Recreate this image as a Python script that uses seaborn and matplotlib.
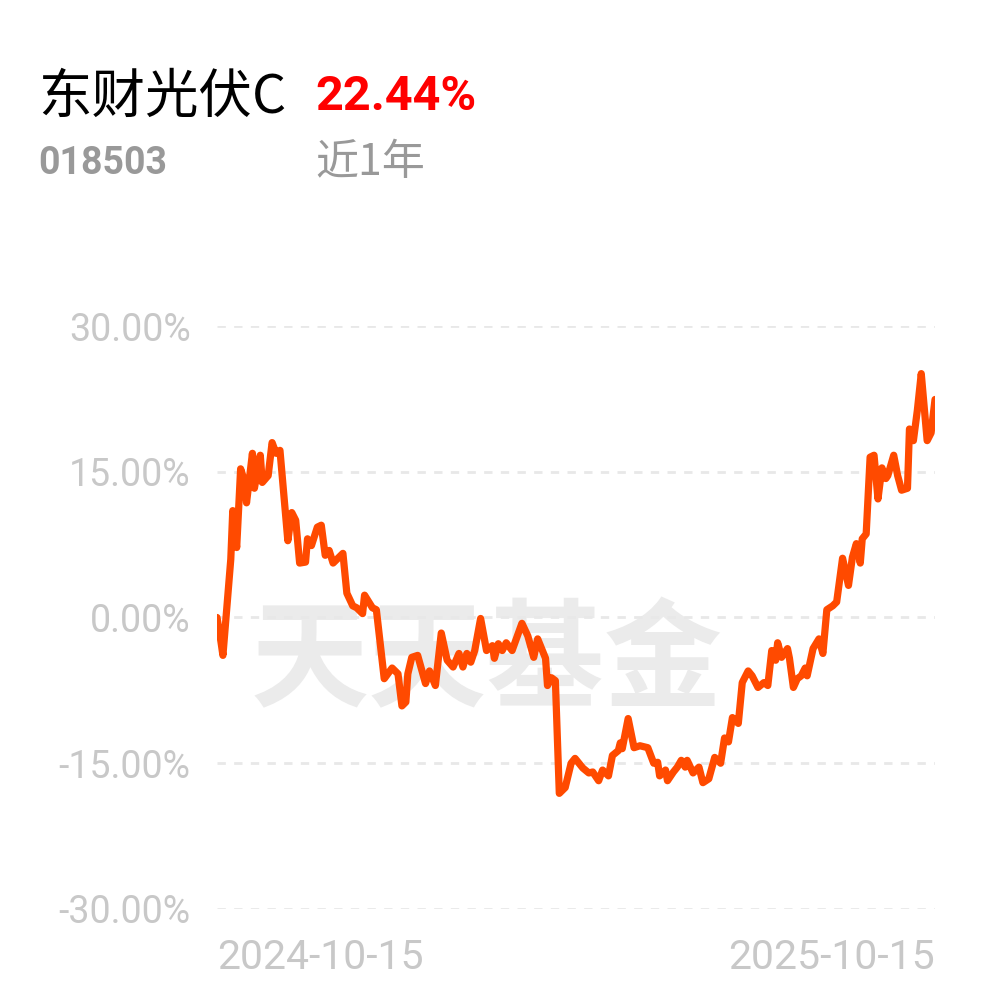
# 东财光伏C 近1年收益走势
import pandas as pd
import matplotlib.pyplot as plt
import seaborn as sns

sns.set_style('white')
plt.rcParams['font.family'] = ['Roboto', 'Noto Sans CJK SC', 'DejaVu Sans']

fund_name = '东财光伏C'
fund_code = '018503'
period_label = '近1年'
period_return = '22.44%'
start_date = '2024-10-15'
end_date = '2025-10-15'

# 距起始日的天数 与 累计收益(%)
days = [0, 2, 3, 5, 7, 8, 10, 12, 14, 15, 18, 19, 22, 23, 26, 28, 30, 32, 36, 38,
        40, 42, 45, 46, 48, 51, 53, 55, 57, 59, 64, 66, 69, 71, 74, 75, 79, 81, 85, 89,
        92, 94, 96, 97, 99, 102, 106, 108, 111, 114, 117, 120, 123, 125, 127, 129, 131, 134, 137, 140,
        141, 143, 145, 147, 150, 155, 158, 161, 163, 167, 168, 170, 172, 174, 177, 180, 182, 186, 189, 191,
        194, 196, 199, 201, 204, 205, 206, 209, 212, 215, 219, 222, 224, 225, 228, 229, 232, 234, 236, 238,
        239, 242, 245, 247, 250, 253, 256, 258, 260, 262, 265, 267, 270, 272, 275, 278, 280, 282, 284, 285,
        287, 290, 291, 293, 295, 297, 299, 300, 303, 306, 308, 310, 313, 315, 318, 321, 323, 325, 327, 328,
        330, 332, 334, 336, 338, 340, 341, 344, 346, 348, 351, 352, 354, 356, 358, 361, 363, 365]
returns = [0.0, -2.5, -3.9, 1.0, 6.0, 11.0, 7.2, 15.3, 14.0, 11.8, 16.9, 13.3, 16.7, 13.9, 14.6, 18.0, 16.9, 17.2, 7.9, 10.8,
           10.0, 5.6, 5.7, 8.1, 7.4, 9.3, 9.5, 6.4, 6.9, 5.6, 6.6, 2.5, 1.2, 1.0, 0.4, 2.3, 1.0, 0.8, -6.3, -5.2,
           -5.8, -9.1, -8.7, -5.8, -4.1, -3.9, -6.8, -5.5, -7.0, -1.6, -4.4, -5.1, -3.7, -5.1, -3.7, -4.6, -3.4, -0.1, -3.4, -2.9,
           -4.2, -2.7, -3.4, -2.6, -3.4, -0.6, -1.9, -4.1, -2.2, -4.2, -7.0, -6.2, -6.5, -18.1, -17.5, -15.0, -14.5, -15.5, -16.0, -15.9,
           -16.8, -15.7, -16.3, -14.2, -13.7, -12.9, -13.5, -10.4, -13.4, -13.2, -13.4, -15.0, -14.9, -16.3, -15.7, -16.8, -15.9, -15.4, -14.7, -15.4,
           -14.7, -16.0, -15.4, -17.0, -16.6, -14.4, -15.0, -12.4, -12.8, -10.3, -10.9, -6.7, -5.5, -6.0, -7.2, -6.7, -7.0, -3.4, -4.4, -2.6,
           -4.1, -3.2, -4.2, -7.2, -6.3, -6.0, -5.2, -6.0, -3.2, -2.2, -3.7, 0.8, 1.2, 1.6, 6.1, 3.3, 6.2, 7.6, 5.6, 8.1,
           8.6, 16.5, 16.7, 12.2, 15.4, 14.3, 14.6, 16.7, 14.6, 13.1, 13.3, 19.4, 18.2, 21.3, 25.1, 18.2, 19.0, 22.44]
y_ticks = [-30, -15, 0, 15, 30]

df = pd.DataFrame({'date': pd.to_datetime(start_date) + pd.to_timedelta(days, unit='D'),
                   'ret': returns})

fig = plt.figure(figsize=(9.86, 9.93), dpi=100)
ax = fig.add_axes([0.2201, 0.0846, 0.7282, 0.5871])

# 水印
ax.text(0.375, 0.42, '天天基金', transform=ax.transAxes, ha='center', va='center',
        fontsize=85, fontweight='bold', color='#ebebeb', family='Noto Sans CJK SC', zorder=0)

sns.lineplot(data=df, x='date', y='ret', color='#ff4a00', linewidth=5.2, ax=ax, zorder=3,
             solid_joinstyle='round', solid_capstyle='round')

ax.set_ylim(-30, 30)
ax.set_xlim(pd.to_datetime(start_date), pd.to_datetime(end_date))
ax.set_yticks(y_ticks)
ax.set_yticklabels([f'{v:.2f}%' for v in y_ticks])
ax.set_xticks([pd.to_datetime(start_date), pd.to_datetime(end_date)])
ax.set_xticklabels([start_date, end_date])
lbls = ax.get_xticklabels()
lbls[0].set_ha('left')
lbls[1].set_ha('right')
ax.tick_params(axis='y', length=0, pad=19, labelsize=27, labelcolor='#c8c8c8')
ax.tick_params(axis='x', length=0, pad=21, labelsize=29.5, labelcolor='#c8c8c8')
ax.set_xlabel('')
ax.set_ylabel('')
ax.grid(axis='y', linestyle=(0, (3, 3)), linewidth=2, color='#e8e8e8')
ax.grid(axis='x', visible=False)
for s in ax.spines.values():
    s.set_visible(False)

# 标题区
fig.text(38 / 986, 1 - 97 / 993, fund_name, ha='left', va='center', fontsize=38.5,
         color='black', family=['Noto Sans CJK SC', 'DejaVu Sans'])
fig.text(315 / 986, 1 - 97 / 993, period_return, ha='left', va='center', fontsize=35,
         fontweight='bold', color='#ff0000')
fig.text(38 / 986, 1 - 163 / 993, fund_code, ha='left', va='center', fontsize=27,
         fontweight='bold', color='#999999')
fig.text(315 / 986, 1 - 163 / 993, period_label, ha='left', va='center', fontsize=31,
         fontweight='medium', color='#999999', family=['Noto Sans CJK SC', 'DejaVu Sans'])

plt.savefig('out.png', dpi=100)
